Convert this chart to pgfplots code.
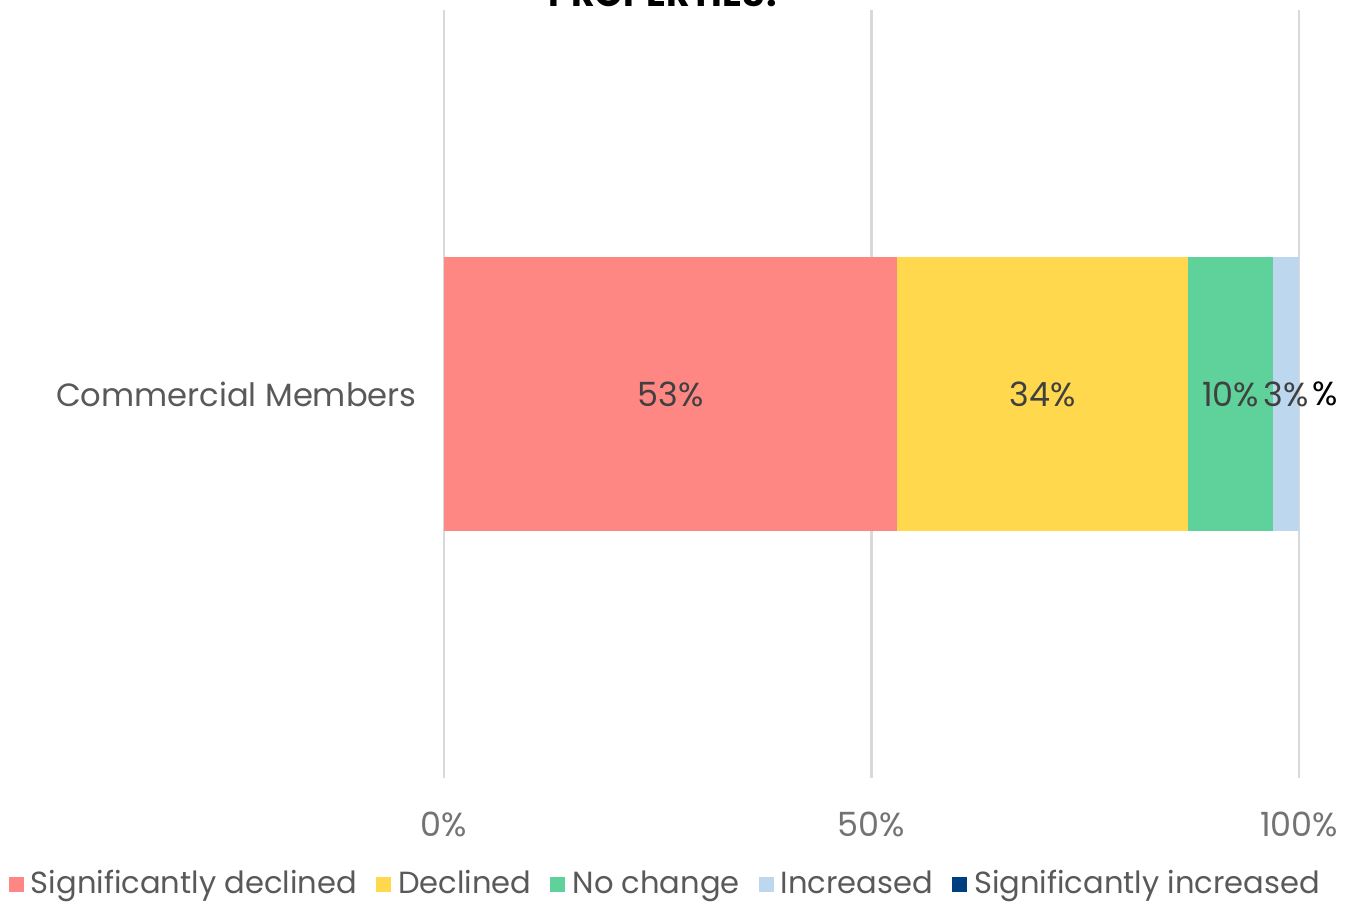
\documentclass[border=0pt]{standalone}
\usepackage{pgfplots}
\pgfplotsset{compat=1.18}
\usepackage{fontspec}
\setmainfont{Poppins}
\definecolor{c1}{HTML}{FF8783}
\definecolor{c2}{HTML}{FFD84D}
\definecolor{c3}{HTML}{5FD19B}
\definecolor{c4}{HTML}{BDD7EE}
\definecolor{c5}{HTML}{003F7F}
\definecolor{txt}{HTML}{595959}
\definecolor{lbl}{HTML}{404040}
\begin{document}
\begin{tikzpicture}
\useasboundingbox (-4.44,-1.23) rectangle (9.11,7.78);
\begin{axis}[
  at={(0,0)}, anchor=south west,
  scale only axis, width=8.55cm, height=7.68cm,
  xbar stacked, bar width=0.711,
  xmin=0, xmax=100, ymin=-1, ymax=1,
  ytick={0}, yticklabels={Commercial Members},
  xtick={0,50,100}, xticklabels={0\%,50\%,100\%},
  axis line style={draw=none},
  major tick length=0,
  xmajorgrids, grid style={draw=black!15, line width=0.8pt},
  clip=false,
  ticklabel style={font=\fontsize{9.5}{11}\selectfont, text=txt},
  yticklabel style={xshift=-0.15cm, font=\fontsize{9.15}{11}\selectfont},
  xticklabel style={yshift=-0.22cm, text=black!55},
  legend style={at={(0.262,-0.139)}, anchor=center, draw=none, fill=none,
    font=\fontsize{8.7}{11}\selectfont, text=txt,
    /tikz/every even column/.append style={column sep=0.12cm}},
  legend columns=5,
  legend image code/.code={\fill[#1] (0cm,-0.075cm) rectangle (0.15cm,0.075cm);},
  nodes near coords style={font=\fontsize{9.5}{11}\selectfont, text=lbl, anchor=center},
  point meta=explicit symbolic,
  nodes near coords,
]
\addplot[fill=c1, draw=none] coordinates {(53,0) [53\%]};
\addplot[fill=c2, draw=none] coordinates {(34,0) [34\%]};
\addplot[fill=c3, draw=none] coordinates {(10,0) [10\%]};
\addplot[fill=c4, draw=none] coordinates {(3,0) [3\%]};
\addplot[fill=c5, draw=none] coordinates {(0,0) []};
\legend{Significantly declined, Declined, No change, Increased, Significantly increased}
\node[anchor=west, xshift=0.01cm, text=black, font=\fontsize{9.5}{11}\selectfont] at (axis cs:100,0) {\%};
\node[overlay, anchor=base, font=\bfseries\fontsize{10.4}{13}\selectfont] at ([yshift=0.03cm]rel axis cs:0.26,1) {PROPERTIES?};
\end{axis}
\end{tikzpicture}
\end{document}
